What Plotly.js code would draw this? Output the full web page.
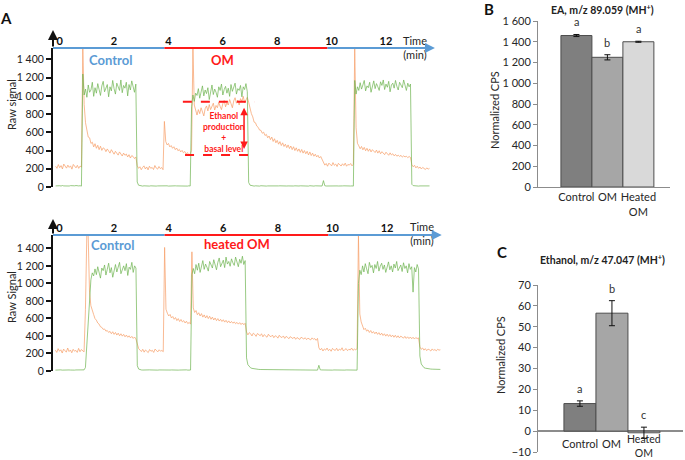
<!DOCTYPE html>
<html><head><meta charset="utf-8">
<script src="https://cdn.plot.ly/plotly-3.0.1.min.js"></script>
<style>html,body{margin:0;padding:0;background:#fff}#chart{width:685px;height:460px}</style>
</head><body><div id="chart"></div>
<script>
// ---- Panel A data (time in min, raw signal) ----
const TIME = [
 0,0.05,0.1,0.15,0.2,0.25,0.3,0.35,0.4,0.45,0.5,0.55,0.6,0.65,0.7,0.75,0.8,0.85,0.9,0.95,
 1,1.05,1.1,1.15,1.2,1.25,1.3,1.35,1.4,1.45,1.5,1.55,1.6,1.65,1.7,1.75,1.8,1.85,1.9,1.95,
 2,2.05,2.1,2.15,2.2,2.25,2.3,2.35,2.4,2.45,2.5,2.55,2.6,2.65,2.7,2.75,2.8,2.85,2.9,2.95,
 3,3.05,3.1,3.15,3.2,3.25,3.3,3.35,3.4,3.45,3.5,3.55,3.6,3.65,3.7,3.75,3.8,3.85,3.9,3.95,
 4,4.05,4.1,4.15,4.2,4.25,4.3,4.35,4.4,4.45,4.5,4.55,4.6,4.65,4.7,4.75,4.8,4.85,4.9,4.95,
 5,5.05,5.1,5.15,5.2,5.25,5.3,5.35,5.4,5.45,5.5,5.55,5.6,5.65,5.7,5.75,5.8,5.85,5.9,5.95,
 6,6.05,6.1,6.15,6.2,6.25,6.3,6.35,6.4,6.45,6.5,6.55,6.6,6.65,6.7,6.75,6.8,6.85,6.9,6.95,
 7,7.05,7.1,7.15,7.2,7.25,7.3,7.35,7.4,7.45,7.5,7.55,7.6,7.65,7.7,7.75,7.8,7.85,7.9,7.95,
 8,8.05,8.1,8.15,8.2,8.25,8.3,8.35,8.4,8.45,8.5,8.55,8.6,8.65,8.7,8.75,8.8,8.85,8.9,8.95,
 9,9.05,9.1,9.15,9.2,9.25,9.3,9.35,9.4,9.45,9.5,9.55,9.6,9.65,9.7,9.75,9.8,9.85,9.9,9.95,
 10,10.05,10.1,10.15,10.2,10.25,10.3,10.35,10.4,10.45,10.5,10.55,10.6,10.65,10.7,10.75,10.8,10.85,10.9,10.95,
 11,11.05,11.1,11.15,11.2,11.25,11.3,11.35,11.4,11.45,11.5,11.55,11.6,11.65,11.7,11.75,11.8,11.85,11.9,11.95,
 12,12.05,12.1,12.15,12.2,12.25,12.3,12.35,12.4,12.45,12.5,12.55,12.6,12.65,12.7,12.75,12.8,12.85,12.9,12.95,
 13,13.05,13.1,13.15,13.2,13.25,13.3,13.35,13.4,13.45,13.5,13.55,13.6,13.65,13.7,13.75,13.8,13.85,13.9,13.95,
 14,14.05,14.1
];
// top run: Control / OM
const ORANGE_A = [
 228,205,246,212,235,198,252,220,207,240,215,232,196,248,222,210,238,205,230,218,
 1526,
 905,705,610,548,540,478,492,440,475,425,458,410,448,402,430,420,388,418,395,372,
 410,380,360,392,368,350,385,355,340,372,348,362,330,355,318,345,335,312,330,
 235,205,222,190,215,232,198,220,188,228,205,215,192,236,208,196,225,202,214,190,
 720,
 500,462,478,440,455,425,442,410,428,398,412,385,402,376,390,362,378,350,365,
 400,1526,
 900,830,790,850,805,870,820,780,860,890,835,905,850,880,920,845,895,870,930,885,
 850,915,950,880,925,900,960,915,870,945,980,920,955,900,970,940,995,925,960,985,
 930,860,805,770,712,705,668,655,625,622,590,602,565,578,540,560,520,548,500,530,
 485,512,470,498,455,485,445,470,432,462,422,450,410,442,400,430,392,418,380,412,
 372,400,365,392,352,385,345,372,338,360,330,348,318,335,308,
 265,240,258,228,262,245,232,268,238,252,225,260,242,230,255,236,262,228,248,240,258,232,250,
 1526,
 650,480,452,420,445,408,435,398,425,392,418,385,410,395,378,405,372,398,365,388,
 370,355,382,360,348,375,352,365,342,358,338,350,335,348,328,342,330,338,322,335,325,
 245,222,238,210,228,205,220,198,215,202,192,210,196,205
];
const GREEN_A = [
 12,15,10,14,11,16,12,10,14,13,11,15,12,10,13,16,11,12,14,10,
 1240,
 1010,1075,985,1120,1040,1065,1150,995,1090,1030,1135,1070,1005,1110,1160,1045,1085,1125,990,1100,
 1055,1170,1080,1020,1140,1095,1060,1175,1035,1115,1085,1150,1000,1125,1065,1165,1090,1040,1130,
 55,20,14,12,10,13,11,14,12,10,13,11,12,14,10,12,13,11,12,10,
 12,
 11,13,10,12,14,11,10,13,12,11,14,10,12,13,11,12,10,13,11,
 880,1010,
 940,1030,1005,1080,975,1055,1110,1000,1065,1025,1090,960,1045,1120,1015,1075,1040,985,1100,1060,
 1130,1010,1070,1105,1030,1085,995,1125,1050,1095,1140,1020,1080,1060,1115,990,1100,1070,1135,1045,
 50,20,14,12,10,13,11,12,10,14,11,12,13,10,12,11,13,10,12,14,11,10,12,13,11,12,10,13,11,12,
 10,14,12,11,13,10,12,11,13,12,10,11,13,12,10,14,11,12,10,13,11,12,10,13,11,
 70,14,11,12,10,13,11,12,10,13,12,11,14,10,12,13,11,12,10,13,11,12,10,
 1170,
 1020,1100,1060,1145,1075,1120,1170,1055,1110,1090,1150,1040,1125,1165,1080,1135,1100,1060,1155,1115,
 1175,1070,1130,1095,1160,1045,1120,1140,1085,1170,1105,1065,1150,1125,1090,1175,1110,1060,1140,1100,1130,
 30,15,12,11,13,10,12,11,13,10,12,11,10,12
];
// bottom run: Control / heated OM
const ORANGE_B = [
 238,212,255,225,242,205,250,230,215,262,222,240,208,248,226,235,212,258,220,245,232,218,
 700,1552,1552,900,
 745,680,645,598,580,548,535,505,498,475,480,455,462,440,452,425,448,418,440,410,
 432,402,425,398,418,390,410,385,402,378,395,372,388,365,
 292,255,238,222,248,215,240,228,210,245,225,236,212,250,230,218,242,226,235,220,
 1410,
 705,660,628,645,605,622,590,610,575,598,565,588,560,575,548,568,540,555,535,
 1360,
 720,668,690,642,665,628,655,615,640,605,632,598,625,590,615,582,605,575,598,570,
 590,565,585,558,578,552,572,548,565,545,560,540,555,535,552,530,548,528,545,
 445,412,438,425,400,432,418,395,428,410,402,425,390,415,405,385,420,398,392,410,
 380,402,395,375,408,388,382,400,372,395,385,368,392,378,370,388,362,382,375,360,
 385,370,365,380,358,375,368,355,378,362,370,350,372,
 265,240,258,228,252,238,262,232,248,225,258,242,235,260,230,250,238,265,228,245,
 255,232,248,240,262,235,250,242,255,
 1552,
 650,560,505,472,488,455,470,440,462,432,450,425,445,418,438,410,432,405,425,398,
 420,395,415,390,410,385,408,382,402,378,398,385,375,395,372,390,370,388,368,385,
 365,382,370,378,
 275,248,262,238,255,232,250,242,228,252,236,245,230,248,238,242
];
const GREEN_B = [
 10,12,9,11,13,10,12,9,11,10,12,11,9,13,10,12,11,9,12,10,11,13,
 40,300,640,900,
 1040,1120,1085,1165,1100,1190,1135,1060,1175,1145,1210,1095,1160,1230,1120,1180,1070,1150,1215,1130,
 1190,1240,1110,1170,1200,1145,1225,1090,1185,1160,1240,1125,1200,1175,
 60,22,15,12,11,13,10,12,11,13,12,10,11,13,12,10,12,11,13,10,
 11,
 12,10,13,11,12,10,13,11,12,10,11,13,10,12,11,13,10,12,11,
 1100,
 1170,1110,1215,1150,1230,1125,1195,1260,1160,1220,1185,1140,1250,1200,1175,1270,1210,1155,1240,1290,
 1190,1230,1265,1180,1300,1220,1250,1195,1280,1235,1205,1300,1245,1190,1275,1230,1310,1215,1260,
 150,72,46,36,30,26,23,21,20,18,17,17,16,15,15,14,15,13,14,13,
 12,14,13,12,13,11,12,13,12,11,12,13,11,12,11,13,12,11,12,10,
 12,11,13,12,11,10,12,11,13,12,11,12,10,
 65,14,12,11,13,10,12,11,13,12,10,12,11,13,12,10,11,13,12,10,
 12,11,13,10,12,11,13,12,10,
 1000,
 1150,1100,1200,1130,1225,1165,1110,1240,1180,1205,1120,1215,1170,1250,1140,1195,1230,1160,1210,1125,
 1185,1245,1155,1200,1130,1220,1175,1250,1145,1190,1210,1135,1235,1170,1200,1120,1225,1160,1190,900,
 1180,1130,1215,1165,
 170,80,50,38,32,28,25,23,22,21,20,19,20,18,19,18
];
const TIME_TICKS = [0,2,4,6,8,10,12];
const SIGNAL_TICKS = [0,200,400,600,800,1000,1200,1400];
const TREAT_START = 4, TREAT_END = 10;

// ---- Panels B, C ----
const BAR_CATS = ['Control','OM','Heated<br>OM'];
const EA_VALUES = [1460,1250,1400];
const EA_ERR = [10,25,5];
const EA_LETTERS = ['a','b','a'];
const ETH_VALUES = [13.2,56.5,-0.8];
const ETH_ERR = [1.3,6,2.7];
const ETH_LETTERS = ['a','b','c'];

const BLUE = '#5b9bd5', RED = '#ff1a1a';
const BAR_COLORS = ['#7f7f7f','#a6a6a6','#d9d9d9'];
const FONT = 'Lato, "Open Sans", sans-serif';
const px = v => v/685, py = v => 1 - v/460;

const lineO = {color:'rgba(247,160,105,0.72)', width:1};
const lineG = {color:'rgba(110,180,80,0.7)', width:1};

const traces = [
 {type:'scatter', mode:'lines', x:TIME, y:ORANGE_A, xaxis:'x', yaxis:'y', line:lineO, hoverinfo:'skip'},
 {type:'scatter', mode:'lines', x:TIME, y:GREEN_A, xaxis:'x', yaxis:'y', line:lineG, hoverinfo:'skip'},
 {type:'scatter', mode:'lines', x:TIME, y:ORANGE_B, xaxis:'x2', yaxis:'y2', line:lineO, hoverinfo:'skip'},
 {type:'scatter', mode:'lines', x:TIME, y:GREEN_B, xaxis:'x2', yaxis:'y2', line:lineG, hoverinfo:'skip'},
 {type:'bar', x:BAR_CATS, y:EA_VALUES, xaxis:'x3', yaxis:'y3',
  marker:{color:BAR_COLORS, line:{color:'#4d4d4d', width:1}},
  error_y:{type:'data', array:EA_ERR, color:'#111', thickness:1, width:3}},
 {type:'bar', x:BAR_CATS, y:ETH_VALUES, xaxis:'x4', yaxis:'y4',
  marker:{color:BAR_COLORS, line:{color:'#4d4d4d', width:1}},
  error_y:{type:'data', array:ETH_ERR, color:'#111', thickness:1, width:3}}
];

const xA = {domain:[px(53), px(445)], side:'top', tickvals:TIME_TICKS, ticks:'', showline:false,
  showgrid:false, zeroline:false, ticklabelshift:4, tickfont:{size:11, color:'#111', weight:'bold'}};
const yA = {tickvals:SIGNAL_TICKS, ticks:'outside', ticklen:5, tickwidth:2, tickcolor:'#111',
  showline:true, linewidth:2, linecolor:'#111', showgrid:false, zeroline:false,
  separatethousands:true, tickfont:{size:10.5, color:'#222'}};
const gray = '#8c8c8c';

const layout = {
 width:685, height:460, margin:{l:0,r:0,t:0,b:0}, paper_bgcolor:'#fff', plot_bgcolor:'rgba(0,0,0,0)',
 showlegend:false, separators:'. ', bargap:0, font:{family:FONT, size:11, color:'#262626'},
 xaxis: Object.assign({}, xA, {anchor:'y', range:[-0.096, 14.32]}),
 yaxis: Object.assign({}, yA, {anchor:'x', domain:[py(187), py(48)], range:[0,1526]}),
 xaxis2: Object.assign({}, xA, {anchor:'y2', range:[-0.088, 14.27]}),
 yaxis2: Object.assign({}, yA, {anchor:'x2', domain:[py(371), py(235)], range:[0,1552]}),
 xaxis3: {anchor:'y3', domain:[px(538), px(670)], range:[-1.24,3.02], type:'category',
  showline:true, linecolor:gray, ticks:'', showgrid:false, tickfont:{size:11, color:'#262626'}},
 yaxis3: {anchor:'x3', domain:[py(187), py(21)], range:[0,1600], dtick:200, ticks:'outside', ticklen:4,
  tickcolor:gray, showline:true, linecolor:gray, showgrid:false, zeroline:false, separatethousands:true,
  tickfont:{size:11, color:'#262626'}},
 xaxis4: {anchor:'y4', domain:[px(538), px(683)], range:[-1.31,3.22], type:'category',
  showline:false, showticklabels:false, ticks:'', showgrid:false},
 yaxis4: {anchor:'x4', domain:[py(452), py(285)], range:[-10,70], dtick:10, ticks:'outside', ticklen:4,
  tickcolor:gray, showline:true, linecolor:gray, showgrid:false, zeroline:true, zerolinecolor:gray,
  zerolinewidth:1.5, tickfont:{size:11, color:'#262626'}},
 shapes: [
  {type:'line', xref:'x', yref:'paper', x0:-0.096, x1:TREAT_START, y0:py(48), y1:py(48), line:{color:BLUE, width:2}},
  {type:'line', xref:'x', yref:'paper', x0:TREAT_START, x1:TREAT_END, y0:py(48), y1:py(48), line:{color:RED, width:2}},
  {type:'line', xref:'x', yref:'paper', x0:TREAT_END, x1:13.85, y0:py(48), y1:py(48), line:{color:BLUE, width:2}},
  {type:'line', xref:'x2', yref:'paper', x0:-0.088, x1:TREAT_START, y0:py(235), y1:py(235), line:{color:BLUE, width:2}},
  {type:'line', xref:'x2', yref:'paper', x0:TREAT_START, x1:TREAT_END, y0:py(235), y1:py(235), line:{color:RED, width:2}},
  {type:'line', xref:'x2', yref:'paper', x0:TREAT_END, x1:14.05, y0:py(235), y1:py(235), line:{color:BLUE, width:2}},
  {type:'line', xref:'x', yref:'y', x0:4.68, x1:7.33, y0:937, y1:937, line:{color:RED, width:2, dash:'dash'}},
  {type:'line', xref:'x', yref:'y', x0:4.76, x1:7.4, y0:351, y1:351, line:{color:RED, width:2, dash:'dash'}}
 ],
 annotations: []
};

const A = layout.annotations;
function txt(x, y, text, opt){ A.push(Object.assign({xref:'paper', yref:'paper', x:px(x), y:py(y), text:text,
  showarrow:false, xanchor:'center', yanchor:'middle'}, opt||{})); }
// panel letters
txt(6, 18, '<b>A</b>', {font:{size:15, color:'#111'}});
txt(489, 9, '<b>B</b>', {font:{size:15, color:'#111'}});
txt(502, 252, '<b>C</b>', {font:{size:15, color:'#111'}});
// titles
txt(602, 9, '<b>EA, m/z 89.059 (MH<sup>+</sup>)</b>', {font:{size:10.5, color:'#222'}});
txt(602, 259, '<b>Ethanol, m/z 47.047 (MH<sup>+</sup>)</b>', {font:{size:10.5, color:'#222'}});
// axis titles
txt(11, 105, 'Raw signal', {textangle:-90, font:{size:11, color:'#262626'}});
txt(11, 297, 'Raw Signal', {textangle:-90, font:{size:11, color:'#262626'}});
txt(495, 110, 'Normalized CPS', {textangle:-90, font:{size:11, color:'#262626'}});
txt(500, 355, 'Normalized CPS', {textangle:-90, font:{size:11, color:'#262626'}});
// period labels
txt(110, 60, 'Control', {font:{size:13, color:BLUE, weight:'bold'}});
txt(222, 60, 'OM', {font:{size:13, color:RED, weight:'bold'}});
txt(113, 245, 'Control', {font:{size:13, color:BLUE, weight:'bold'}});
txt(237, 244, 'heated OM', {font:{size:13, color:RED, weight:'bold'}});
txt(415, 48, 'Time<br>(min)', {font:{size:11, color:'#262626'}});
txt(422, 234, 'Time<br>(min)', {font:{size:11, color:'#262626'}});
// arrows on axes
[[53,30,18],[53,219,16]].forEach(([x,y,l]) => A.push({xref:'paper', yref:'paper', x:px(x), y:py(y), ax:0, ay:l,
  text:'', showarrow:true, arrowhead:2, arrowsize:1, arrowwidth:2, arrowcolor:'#111'}));
[['x',13.95,48],['x2',14.15,235]].forEach(([xr,x,y]) => A.push({xref:xr, yref:'paper', x:x, y:py(y), ax:-8, ay:0,
  text:'', showarrow:true, arrowhead:2, arrowsize:1, arrowwidth:2, arrowcolor:BLUE}));
// ethanol production annotation
A.push({xref:'x', yref:'y', x:6.93, y:870, axref:'x', ayref:'y', ax:6.93, ay:402, text:'', showarrow:true,
  arrowside:'end+start', arrowhead:2, arrowsize:1, arrowwidth:1.5, arrowcolor:RED});
A.push({xref:'x', yref:'y', x:6.19, y:593, text:'<b>Ethanol<br>production<br>+<br>basal level</b>', showarrow:false,
  font:{size:8.5, color:RED}});
// significance letters
EA_LETTERS.forEach((l,i) => A.push({xref:'x3', yref:'y3', x:i, y:EA_VALUES[i]+EA_ERR[i], text:l, showarrow:false,
  yanchor:'bottom', yshift:4, font:{size:11, color:'#333'}}));
ETH_LETTERS.forEach((l,i) => A.push({xref:'x4', yref:'y4', x:i, y:ETH_VALUES[i]+ETH_ERR[i], text:l, showarrow:false,
  yanchor:'bottom', yshift:4, font:{size:11, color:'#333'}}));
// category labels for panel C (low position, Excel style)
BAR_CATS.forEach((c,i) => {
  const multi = c.indexOf('<br>') >= 0;
  A.push({xref:'x4', yref:'paper', x:i, y: multi ? py(460) : py(443), text:c, showarrow:false,
    yanchor: multi ? 'bottom' : 'middle', borderpad:0, font:{size: multi ? 10.5 : 11, color:'#262626'}});
});

Plotly.newPlot('chart', traces, layout, {staticPlot:true, displayModeBar:false});
</script></body></html>
